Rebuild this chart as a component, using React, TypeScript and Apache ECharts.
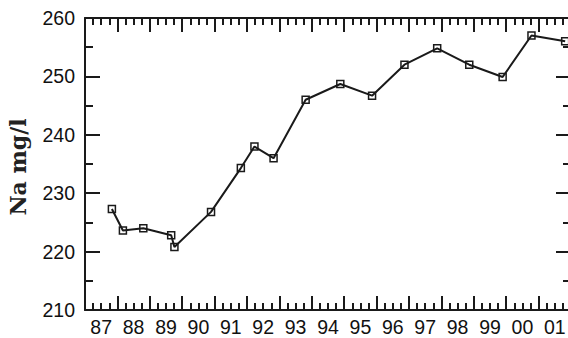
import React, { useEffect, useRef } from "react";
import * as echarts from "echarts";

const yearLabels = ["87", "88", "89", "90", "91", "92", "93", "94", "95", "96", "97", "98", "99", "00", "01"];
const sampleYears = [
  1987.83, 1988.17, 1988.8, 1989.66, 1989.76, 1990.89, 1991.81, 1992.23, 1992.82,
  1993.81, 1994.88, 1995.86, 1996.86, 1997.87, 1998.86, 1999.89, 2000.78, 2001.82,
];
const naValues = [
  227.3, 223.6, 224.0, 222.8, 220.8, 226.8, 234.3, 238.0, 236.0,
  246.0, 248.7, 246.7, 252.0, 254.8, 252.0, 249.9, 257.0, 256.0,
];
const yTitle = "Na mg/l";

const INK = "#1a1a1a";

export default function App() {
  const ref = useRef<HTMLDivElement>(null);
  useEffect(() => {
    if (!ref.current) return;
    const chart = echarts.init(ref.current, null, { renderer: "svg" });
    const lineStyle = { color: INK, width: 2 };
    const tickStyle = { color: INK, width: 2 };
    const valueX = (position: "top" | "bottom") => ({
      type: "value",
      position,
      min: 1987,
      max: 2002,
      interval: 1,
      axisLine: { show: true, onZero: false, lineStyle },
      axisTick: { show: true, inside: true, length: 14, lineStyle: tickStyle },
      minorTick: { show: true, splitNumber: 4, length: 7, lineStyle: tickStyle },
      axisLabel: { show: false },
      splitLine: { show: false },
      minorSplitLine: { show: false },
    });
    const valueY = (position: "left" | "right", labels: boolean) => ({
      type: "value",
      position,
      min: 210,
      max: 260,
      interval: 10,
      axisLine: { show: true, onZero: false, lineStyle },
      axisTick: { show: true, inside: true, length: 15, lineStyle: tickStyle },
      minorTick: { show: true, splitNumber: 2, length: 8, lineStyle: tickStyle },
      axisLabel: {
        show: labels,
        margin: 10,
        color: "#111",
        fontFamily: "Liberation Sans",
        fontSize: 19.5,
      },
      splitLine: { show: false },
      minorSplitLine: { show: false },
    });
    chart.setOption({
      animation: false,
      backgroundColor: "#ffffff",
      grid: { left: 85, top: 18, width: 486, height: 292, outerBoundsMode: "none", containLabel: false },
      xAxis: [
        valueX("bottom"),
        valueX("top"),
        {
          type: "category",
          position: "bottom",
          data: yearLabels,
          boundaryGap: true,
          axisLine: { show: false },
          axisTick: { show: false },
          splitLine: { show: false },
          axisLabel: {
            interval: 0,
            margin: 7,
            color: "#111",
            fontFamily: "Liberation Sans",
            fontSize: 19.5,
          },
        },
      ],
      yAxis: [valueY("left", true), valueY("right", false)],
      graphic: [
        {
          type: "text",
          x: 18,
          y: 167,
          rotation: Math.PI / 2,
          style: {
            text: yTitle,
            align: "center",
            verticalAlign: "middle",
            fill: "#222",
            font: "bold 22px 'DejaVu Serif'",
          },
        },
      ],
      series: [
        {
          type: "line",
          xAxisIndex: 0,
          yAxisIndex: 0,
          data: sampleYears.map((x, i) => [x, naValues[i]]),
          symbol: "rect",
          symbolSize: 7,
          showAllSymbol: true,
          lineStyle: { color: INK, width: 2 },
          itemStyle: { color: "rgba(0,0,0,0)", borderColor: INK, borderWidth: 1.5 },
        },
      ],
    });
    return () => chart.dispose();
  }, []);
  return (
    <div
      ref={ref}
      style={{ position: "fixed", left: 0, top: 0, width: 568, height: 338, background: "#fff" }}
    />
  );
}
